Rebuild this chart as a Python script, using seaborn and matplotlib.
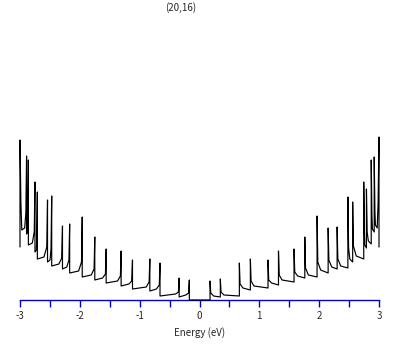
import numpy as np
import pandas as pd
import seaborn as sns
import matplotlib
matplotlib.use("Agg")
import matplotlib.pyplot as plt

# van Hove singularities of the (20,16) tube
# energies in eV, heights in arbitrary DOS units
e_pos = [0.176, 0.348, 0.666, 0.85, 1.145, 1.32, 1.58, 1.76, 1.965, 2.15, 2.30, 2.48, 2.56, 2.745, 2.79, 2.87, 2.92]
peak_pos = [19, 21, 37, 41, 40, 49, 51, 63, 84, 72, 73, 103, 98, 118, 111, 140, 143]
knee_pos = [7, 8, 16, 19, 20, 25, 28, 32, 38, 40, 41, 52, 54, 66, 68, 84, 88]
tail_pos = [4, 5, 12, 14, 17, 20, 24, 25, 30, 33, 34, 41, 44, 55, 59, 71, 75]
floor_pos = [3, 4, 10, 12, 15, 18, 22, 23, 27, 31, 32, 38, 41, 52, 56, 68, 72]

e_neg = [-0.17, -0.34, -0.66, -0.83, -1.12, -1.31, -1.56, -1.75, -1.96, -2.17, -2.29, -2.47, -2.54, -2.71, -2.75, -2.86, -2.89]
peak_neg = [20, 22, 37, 41, 40, 49, 51, 63, 83, 76, 74, 104, 100, 108, 118, 140, 144]
knee_neg = [7, 8, 15, 18, 19, 24, 26, 31, 38, 40, 42, 51, 53, 60, 68, 82, 87]
tail_neg = [5, 6, 11, 13, 16, 19, 22, 25, 29, 33, 36, 40, 43, 50, 57, 68, 72]
floor_neg = [3, 4, 9, 11, 14, 17, 20, 23, 27, 31, 34, 38, 41, 48, 55, 66, 70]

# edge of the energy window (-3 and 3 eV)
edge_peak_left = 160
edge_peak_right = 163
edge_shoulder = 97
edge_end = 53

xticks = [-3, -2, -1, 0, 1, 2, 3]

# build the polyline, left to right
xs, ys = [], []
def add(x, y):
    xs.append(x)
    ys.append(y)

add(-3.0, edge_end)
add(-3.0, edge_peak_left)
add(-2.985, edge_shoulder)
add(-2.97, floor_neg[-1])
for i in range(len(e_neg) - 1, -1, -1):
    e = e_neg[i]
    outer = e_neg[i + 1] if i + 1 < len(e_neg) else -2.97
    gap = min(0.06, 0.4 * (e - outer))
    inner = floor_neg[i - 1] if i > 0 else 0
    add(e - gap, tail_neg[i])
    add(e - 0.012, knee_neg[i])
    add(e, peak_neg[i])
    add(e, inner)

prev = 0
for i, e in enumerate(e_pos):
    nxt = e_pos[i + 1] if i + 1 < len(e_pos) else 2.97
    gap = min(0.06, 0.4 * (nxt - e))
    add(e, prev)
    add(e, peak_pos[i])
    add(e + 0.012, knee_pos[i])
    add(e + gap, tail_pos[i])
    prev = floor_pos[i]
add(2.97, prev)
add(2.985, edge_shoulder)
add(3.0, edge_peak_right)
add(3.0, edge_end)

df = pd.DataFrame({"energy": xs, "dos": ys})

sns.set_style("white")
plt.rcParams['font.family'] = ['Noto Sans CJK JP', 'DejaVu Sans']
plt.rcParams['axes.unicode_minus'] = False

fig = plt.figure(figsize=(4.09, 3.45), dpi=100)
ax = fig.add_axes([20 / 409, 45 / 345, 359 / 409, 280 / 345])

sns.lineplot(data=df, x="energy", y="dos", sort=False, estimator=None,
             color="black", linewidth=0.85, ax=ax, zorder=3, clip_on=False)

ax.set_xlim(-3, 3)
ax.set_ylim(0, 280)
ax.set_yticks([])
ax.set_ylabel("")
for s in ["left", "right", "top"]:
    ax.spines[s].set_visible(False)
ax.spines["bottom"].set_color("#0000cc")
ax.spines["bottom"].set_linewidth(1.0)

ax.set_xticks(np.arange(-3, 3.01, 0.5), minor=True)
ax.set_xticks(xticks)
ax.set_xticklabels([str(t) for t in xticks])
ax.tick_params(axis="x", which="both", direction="out", length=5, width=1,
               color="#0000cc", labelsize=7, pad=3, bottom=True)
ax.set_xlabel("Energy (eV)", fontsize=7, labelpad=4)

fig.text(181 / 409, 1 - 8 / 345, "(20,16)", ha="center", va="center", fontsize=7)

fig.savefig("out.png", dpi=100)
